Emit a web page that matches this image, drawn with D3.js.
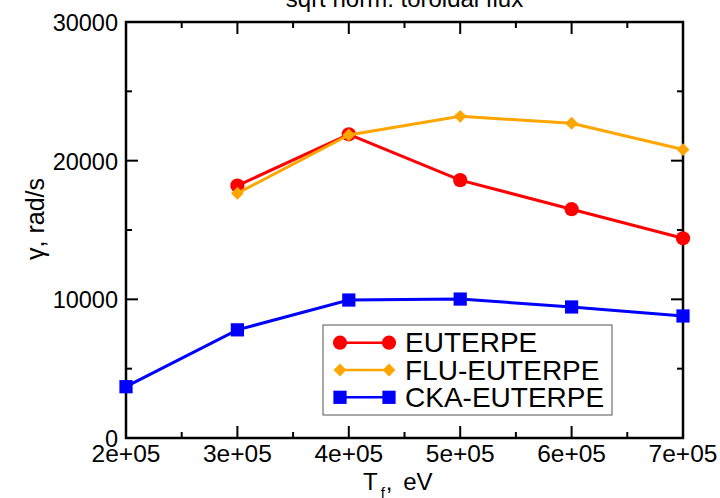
<!DOCTYPE html>
<html>
<head>
<meta charset="utf-8">
<script src="https://cdn.jsdelivr.net/npm/d3@7"></script>
<style>
  body { margin: 0; background: #fff; }
  svg { font-family: "Liberation Sans", Arial, sans-serif; }
</style>
</head>
<body>
<svg class="chart" width="720" height="498"></svg>
<script>
// values
const temps = [2e5, 3e5, 4e5, 5e5, 6e5, 7e5];
const euterpe = [null, 18200, 21900, 18600, 16500, 14400];
const fluEuterpe = [null, 17650, 21850, 23200, 22700, 20800];
const ckaEuterpe = [3700, 7800, 9950, 10020, 9450, 8800];
const xTicks = [2e5, 3e5, 4e5, 5e5, 6e5, 7e5];
const yTicks = [0, 10000, 20000, 30000];

const series = [
    { name: 'EUTERPE', values: euterpe, color: '#ff0000', symbol: 'circle' },
    { name: 'FLU-EUTERPE', values: fluEuterpe, color: '#ffa500', symbol: 'diamond' },
    { name: 'CKA-EUTERPE', values: ckaEuterpe, color: '#0000ff', symbol: 'square' }
];

const pLeft = 126, pRight = 683, pTop = 22, pBottom = 438;

const svg = d3.select('.chart');

const x = d3.scaleLinear().domain([2e5, 7e5]).range([pLeft, pRight]);
const y = d3.scaleLinear().domain([0, 30000]).range([pBottom, pTop]);

const fmtX = d => {
    const e = Math.floor(Math.log10(d));
    return (d / Math.pow(10, e)).toFixed(0) + 'e+' + String(e).padStart(2, '0');
};

// title, cut at the top like the original
svg.append('text')
    .attr('x', (pLeft + pRight) / 2)
    .attr('y', 7)
    .attr('text-anchor', 'middle')
    .style('font-size', '24px')
    .text('sqrt norm. toroidal flux');

// ticks on all four sides, pointing in
const minorX = d3.range(2.5e5, 7e5, 1e5);
const minorY = d3.range(5000, 30000, 10000);
const ticks = svg.append('g').attr('stroke', '#000').attr('stroke-width', 2);
function vTicks(vals, len) {
    vals.forEach(v => {
        ticks.append('line').attr('x1', x(v)).attr('x2', x(v)).attr('y1', pBottom).attr('y2', pBottom - len);
        ticks.append('line').attr('x1', x(v)).attr('x2', x(v)).attr('y1', pTop).attr('y2', pTop + len);
    });
}
function hTicks(vals, len) {
    vals.forEach(v => {
        ticks.append('line').attr('y1', y(v)).attr('y2', y(v)).attr('x1', pLeft).attr('x2', pLeft + len);
        ticks.append('line').attr('y1', y(v)).attr('y2', y(v)).attr('x1', pRight).attr('x2', pRight - len);
    });
}
vTicks(xTicks, 12);
vTicks(minorX, 6);
hTicks(yTicks, 12);
hTicks(minorY, 6);

svg.append('rect')
    .attr('x', pLeft).attr('y', pTop)
    .attr('width', pRight - pLeft).attr('height', pBottom - pTop)
    .attr('fill', 'none').attr('stroke', '#000').attr('stroke-width', 2.5);

// tick labels
svg.append('g').selectAll('text')
    .data(xTicks)
    .join('text')
    .attr('x', d => x(d))
    .attr('y', 462)
    .attr('text-anchor', 'middle')
    .style('font-size', '24.5px')
    .text(fmtX);

svg.append('g').selectAll('text')
    .data(yTicks)
    .join('text')
    .attr('x', 118)
    .attr('y', d => y(d) + 9)
    .attr('text-anchor', 'end')
    .style('font-size', '23.5px')
    .text(d => d);

// axis labels
svg.append('text')
    .attr('transform', 'translate(44, 219) rotate(-90)')
    .attr('text-anchor', 'middle')
    .style('font-size', '25px')
    .text('γ, rad/s');

const xl = svg.append('text')
    .attr('x', 363)
    .attr('y', 490)
    .style('font-size', '24px');
xl.append('tspan').text('T');
xl.append('tspan').attr('dx', 3).attr('dy', 8).style('font-size', '15px').text('f');
xl.append('tspan').attr('dx', 1).attr('dy', -8).text(',');
xl.append('tspan').attr('dx', 4).text(' eV');

// marks
const symbols = {
    circle: d3.symbol(d3.symbolCircle, 160),
    diamond: d3.symbol(d3.symbolSquare, 82),
    square: d3.symbol(d3.symbolSquare, 175)
};
const rot = { circle: 0, diamond: 45, square: 0 };

const line = d3.line()
    .defined(d => d[1] != null)
    .x(d => x(d[0]))
    .y(d => y(d[1]));

series.forEach(s => {
    const pts = temps.map((t, i) => [t, s.values[i]]);
    svg.append('path')
        .datum(pts)
        .attr('d', line)
        .attr('fill', 'none')
        .attr('stroke', s.color)
        .attr('stroke-width', 3);
    svg.append('g').selectAll('path')
        .data(pts.filter(d => d[1] != null))
        .join('path')
        .attr('transform', d => `translate(${x(d[0])},${y(d[1])}) rotate(${rot[s.symbol]})`)
        .attr('d', symbols[s.symbol])
        .attr('fill', s.color);
});

// legend
const lg = svg.append('g').attr('transform', 'translate(323, 325)');
lg.append('rect')
    .attr('width', 289).attr('height', 90)
    .attr('fill', '#fff').attr('stroke', '#555').attr('stroke-width', 1);
series.forEach((s, i) => {
    const yy = 17.7 + i * 27.3;
    lg.append('line')
        .attr('x1', 17).attr('x2', 66).attr('y1', yy).attr('y2', yy)
        .attr('stroke', s.color).attr('stroke-width', 2.5);
    [17, 66].forEach(px => {
        lg.append('path')
            .attr('transform', `translate(${px},${yy}) rotate(${rot[s.symbol]})`)
            .attr('d', symbols[s.symbol])
            .attr('fill', s.color);
    });
    lg.append('text')
        .attr('x', 82).attr('y', yy + 9.6)
        .style('font-size', '28px')
        .text(s.name);
});
</script>
</body>
</html>
